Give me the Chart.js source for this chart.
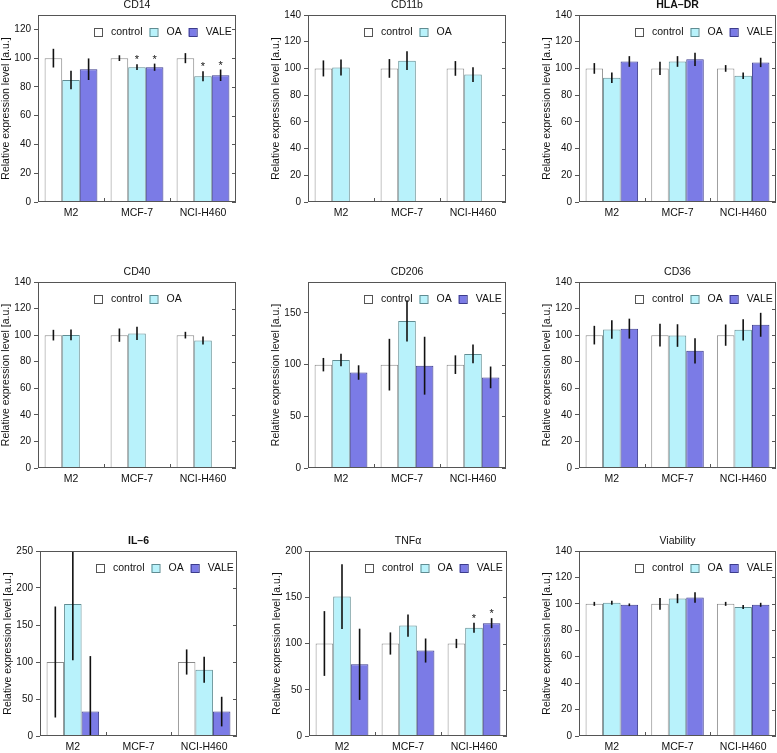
<!DOCTYPE html>
<html>
<head>
<meta charset="utf-8">
<script src="https://cdn.jsdelivr.net/npm/chart.js@4.4.0/dist/chart.umd.min.js"></script>
<style>
body { margin: 0; background: #fff; width: 777px; height: 753px; overflow: hidden; position: relative; }
canvas { position: absolute; }
</style>
</head>
<body>
<script>
const groups = ['M2', 'MCF-7', 'NCI-H460'];
const seriesNames = ['control', 'OA', 'VALE'];

// one row per series (control, OA, VALE), one value per group
const cd14 = [[100, 100, 100], [84.8, 93.7, 87.4], [92.3, 93.7, 88.1]];
const cd14Err = [[6.5, 2, 3.5], [6.5, 2, 3.5], [7.5, 2.5, 4]];
const cd14Star = [[0, 0, 0], [0, 1, 1], [0, 1, 1]];

const cd11b = [[100, 100, 100], [100.7, 105.8, 95.4], [null, null, null]];
const cd11bErr = [[6, 7, 5.5], [6, 7, 5.5], [0, 0, 0]];

const hladr = [[100, 100, 100], [93, 105.2, 94.5], [105.2, 106.8, 104.5]];
const hladrErr = [[4, 5, 2.5], [4, 4, 2.5], [4, 5, 3.5]];

const cd40 = [[100, 100, 100], [100.2, 101.3, 96], [null, null, null]];
const cd40Err = [[4, 5, 2.5], [4, 5, 3], [0, 0, 0]];

const cd206 = [[100, 100, 100], [104.5, 142.3, 110.4], [92.4, 99, 87.7]];
const cd206Err = [[6.5, 25, 9], [6, 20, 9], [7, 28, 10.5]];

const cd36 = [[100, 100, 100], [104.2, 99.7, 104], [104.9, 88.2, 107.8]];
const cd36Err = [[7, 8.5, 8], [7, 8.5, 8], [7.5, 9.5, 9]];

const il6 = [[100, null, 100], [178.5, null, 89.5], [33, null, 33]];
const il6Err = [[75, 0, 17], [76, 0, 17.5], [75, 0, 20]];

const tnfa = [[100, 100, 100], [150.8, 119.4, 117], [77.5, 92.4, 122]];
const tnfaErr = [[35, 12, 5], [35, 12, 5.4], [38.5, 13, 5.4]];
const tnfaStar = [[0, 0, 0], [0, 0, 1], [0, 0, 1]];

const viab = [[100, 100, 100], [100.8, 104, 97.7], [99.3, 104.8, 99.3]];
const viabErr = [[1.5, 4.5, 1.5], [1.5, 3.5, 1.5], [1, 4, 1.5]];


const fills = ['#ffffff', '#b8f2fb', '#7b7be6'];
const edges = ['#8a8a8a', '#5f8c92', '#3c3c8c'];
const FONT = 'Liberation Sans, Arial, sans-serif';

// plot rectangles: left, top, width, height
const panels = [
    { title: 'CD14', vals: cd14, err: cd14Err, star: cd14Star, n: 3, max: 130, step: 20, plot: [38, 15, 198, 187] },
    { title: 'CD11b', vals: cd11b, err: cd11bErr, n: 2, max: 140, step: 20, plot: [308, 15, 198, 187] },
    { title: 'HLA–DR', bold: true, vals: hladr, err: hladrErr, n: 3, max: 140, step: 20, plot: [579, 15, 197, 187] },
    { title: 'CD40', vals: cd40, err: cd40Err, n: 2, max: 140, step: 20, plot: [38, 282, 198, 186] },
    { title: 'CD206', vals: cd206, err: cd206Err, n: 3, max: 180, step: 50, plot: [308, 282, 198, 186] },
    { title: 'CD36', vals: cd36, err: cd36Err, n: 3, max: 140, step: 20, plot: [579, 282, 197, 186] },
    { title: 'IL–6', bold: true, vals: il6, err: il6Err, n: 3, max: 250, step: 50, plot: [40, 551, 197, 185] },
    { title: 'TNFα', vals: tnfa, err: tnfaErr, star: tnfaStar, n: 3, max: 200, step: 50, plot: [309, 551, 198, 185] },
    { title: 'Viability', vals: viab, err: viabErr, n: 3, max: 140, step: 20, plot: [579, 551, 197, 185] },
];


const panelPlugin = {
    id: 'panel',
    afterDatasetsDraw(chart, args, o) {
        const ctx = chart.ctx, a = chart.chartArea, y = chart.scales.y;
        ctx.save();
        ctx.beginPath();
        ctx.rect(a.left, a.top, a.right - a.left, a.bottom - a.top);
        ctx.clip();
        ctx.strokeStyle = '#111';
        ctx.lineWidth = 1.6;
        o.vals.forEach((row, k) => {
            const meta = chart.getDatasetMeta(k);
            row.forEach((v, i) => {
                if (v == null) return;
                const bar = meta.data[i], e = o.err[k][i];
                ctx.beginPath();
                ctx.moveTo(bar.x, y.getPixelForValue(v + e));
                ctx.lineTo(bar.x, y.getPixelForValue(v - e));
                ctx.stroke();
            });
        });
        ctx.restore();

        if (o.star) {
            ctx.save();
            ctx.fillStyle = '#111';
            ctx.font = '11px ' + FONT;
            ctx.textAlign = 'center';
            ctx.textBaseline = 'alphabetic';
            o.star.forEach((row, k) => {
                const meta = chart.getDatasetMeta(k);
                row.forEach((s, i) => {
                    if (!s) return;
                    const top = y.getPixelForValue(o.vals[k][i] + o.err[k][i]);
                    ctx.fillText('*', meta.data[i].x, top - 1);
                });
            });
            ctx.restore();
        }
    },
    afterDraw(chart, args, o) {
        const ctx = chart.ctx, a = chart.chartArea, y = chart.scales.y, x = chart.scales.x;
        ctx.save();
        // frame
        ctx.strokeStyle = '#555';
        ctx.lineWidth = 1;
        ctx.strokeRect(a.left + 0.5, a.top + 0.5, a.right - a.left - 1, a.bottom - a.top - 1);
        // mirrored ticks on the right, group separators at the bottom
        ctx.beginPath();
        y.ticks.forEach(t => {
            const py = Math.round(y.getPixelForValue(t.value)) + 0.5;
            ctx.moveTo(a.right, py);
            ctx.lineTo(a.right - 4, py);
        });
        for (let i = 0; i < groups.length - 1; i++) {
            const px = Math.round((x.getPixelForValue(i) + x.getPixelForValue(i + 1)) / 2) + 0.5;
            ctx.moveTo(px, a.bottom);
            ctx.lineTo(px, a.bottom - 4);
        }
        ctx.stroke();

        // title
        ctx.fillStyle = '#111';
        ctx.font = (o.bold ? 'bold ' : '') + '10.5px ' + FONT;
        ctx.textAlign = 'center';
        ctx.textBaseline = 'middle';
        ctx.fillText(o.title, (a.left + a.right) / 2, a.top - 10);

        // legend
        ctx.font = '10.5px ' + FONT;
        ctx.textAlign = 'left';
        let lx = a.left + 56;
        const ly = a.top + 17;
        for (let k = 0; k < o.n; k++) {
            ctx.fillStyle = fills[k];
            ctx.fillRect(lx, ly - 4, 8, 8);
            ctx.strokeStyle = k === 0 ? '#555' : edges[k];
            ctx.strokeRect(lx + 0.5, ly - 3.5, 8, 8);
            ctx.fillStyle = '#111';
            ctx.fillText(seriesNames[k], lx + 17, ly + 0.5);
            lx += 17 + ctx.measureText(seriesNames[k]).width + 7;
        }
        ctx.restore();
    }
};


panels.forEach(p => {
    const [l, t, w, h] = p.plot;
    const cv = document.createElement('canvas');
    cv.width = 38 + w + 4;
    cv.height = 16 + h + 24;
    cv.style.left = (l - 38) + 'px';
    cv.style.top = (t - 16) + 'px';
    document.body.appendChild(cv);

    new Chart(cv, {
        type: 'bar',
        data: {
            labels: groups,
            datasets: seriesNames.map((s, k) => ({
                label: s,
                data: p.vals[k],
                backgroundColor: fills[k],
                borderColor: edges[k],
                borderWidth: 1
            }))
        },
        options: {
            responsive: false,
            animation: false,
            devicePixelRatio: 1,
            layout: { padding: { top: 16, right: 4, left: 0, bottom: 0 } },
            datasets: { bar: { categoryPercentage: 0.8, barPercentage: 1 } },
            plugins: {
                legend: { display: false },
                tooltip: { enabled: false },
                panel: { title: p.title, bold: p.bold, vals: p.vals, err: p.err, star: p.star, n: p.n }
            },
            scales: {
                x: {
                    grid: { display: false, drawTicks: false },
                    border: { display: false },
                    ticks: { font: { family: FONT, size: 10.5 }, color: '#111', padding: 5, maxRotation: 0 },
                    afterFit(s) { s.height = 24; }
                },
                y: {
                    min: 0,
                    max: p.max,
                    ticks: { stepSize: p.step, font: { family: FONT, size: 10 }, color: '#111', padding: 3 },
                    afterBuildTicks(s) { s.ticks = s.ticks.filter(tk => tk.value % p.step === 0); },
                    grid: { drawOnChartArea: false, tickLength: 4, color: '#555' },
                    border: { display: false },
                    title: { display: true, text: 'Relative expression level [a.u.]', font: { family: FONT, size: 10.5 }, color: '#111', padding: 0 },
                    afterFit(s) { s.width = 38; }
                }
            }
        },
        plugins: [panelPlugin]
    });
});
</script>
</body>
</html>
